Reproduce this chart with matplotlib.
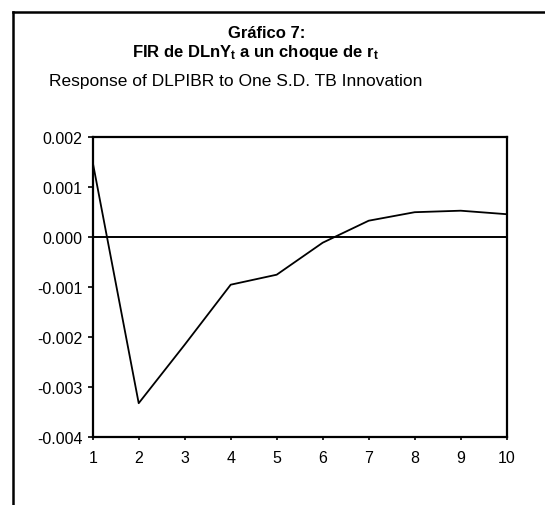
import numpy as np
import matplotlib
matplotlib.use("Agg")
import matplotlib.pyplot as plt
from matplotlib.lines import Line2D

plt.rcParams["font.family"] = ["Liberation Sans", "DejaVu Sans"]
plt.rcParams["axes.unicode_minus"] = False

# Impulse response
periods = [1, 2, 3, 4, 5, 6, 7, 8, 9, 10]
response = [0.00149, -0.00333, -0.00216, -0.00096, -0.00076,
            -0.00012, 0.00032, 0.00049, 0.00052, 0.00045]
yticks = [-0.004, -0.003, -0.002, -0.001, 0.000, 0.001, 0.002]

W, H = 545, 506
fig = plt.figure(figsize=(W / 100, H / 100), dpi=100)
ax = fig.add_axes([92.7 / W, 1 - 437.7 / H, (506.7 - 92.7) / W, (437.7 - 137.7) / H])

ax.plot(periods, response, color="black", linewidth=1.3)
ax.axhline(0, color="black", linewidth=1.4)

ax.set_xlim(1, 10)
ax.set_ylim(-0.004, 0.002)
ax.set_xticks(periods)
ax.set_yticks(yticks)
ax.set_yticklabels(["%.3f" % v for v in yticks])
ax.tick_params(axis="both", direction="out", labelsize=11.5, width=1.2, color="black")
ax.tick_params(axis="y", length=3.5, pad=4)
ax.tick_params(axis="x", length=2.5, pad=7)
for s in ax.spines.values():
    s.set_linewidth(1.6)

# outer frame (top and left edges only are visible)
fig.add_artist(Line2D([13 / W, 1], [1 - 12.5 / H, 1 - 12.5 / H], color="black", lw=1.8))
fig.add_artist(Line2D([13 / W, 13 / W], [0, 1 - 12.5 / H], color="black", lw=1.8))

fig.text(267 / W, 1 - 33 / H, "Gráfico 7:", ha="center", va="center",
         fontsize=12, fontweight="bold")
fig.text(255 / W, 1 - 53 / H, r"FIR de DLnY$\mathregular{_t}$ a un choque de r$\mathregular{_t}$",
         ha="center", va="center", fontsize=12, fontweight="bold")
fig.text(49 / W, 1 - 82 / H, "Response of DLPIBR to One S.D. TB Innovation",
         ha="left", va="center", fontsize=12.5)

fig.savefig("out.png", dpi=100)
